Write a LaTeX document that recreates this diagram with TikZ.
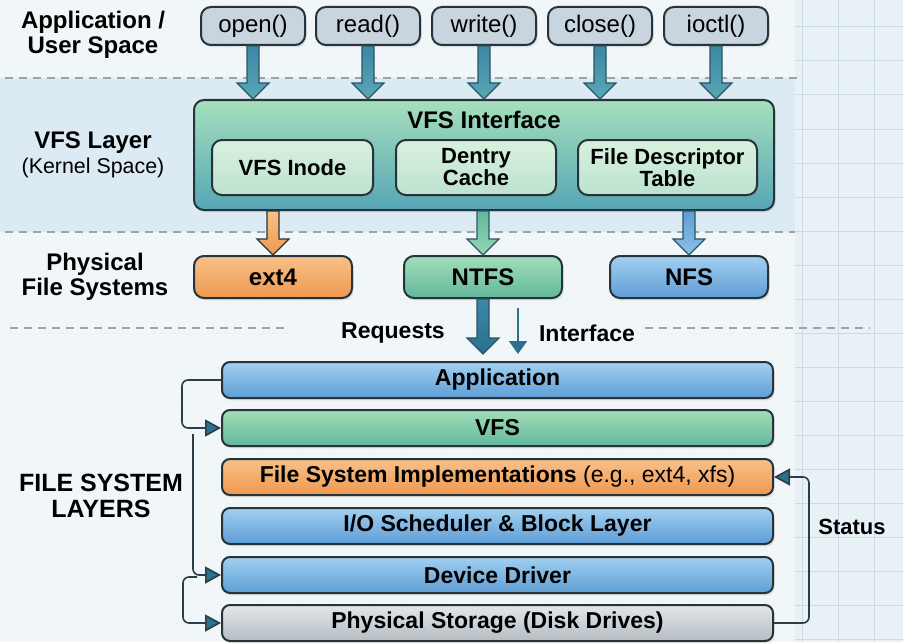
\documentclass[tikz,border=0pt]{standalone}
\usepackage{fontspec}
\setmainfont{Liberation Sans}
\usetikzlibrary{calc,shadows,arrows.meta}

\definecolor{pagebg}{HTML}{E8F1F6}
\definecolor{mainbg}{HTML}{F3F7F9}
\definecolor{bandbg}{HTML}{DCEBF3}
\definecolor{gridc}{HTML}{CCDBE3}
\definecolor{dashc}{HTML}{98A5AC}
\definecolor{edgec}{HTML}{26333A}
\definecolor{callfill}{HTML}{C9D5DE}
\definecolor{vfstop}{HTML}{A6E0BC}
\definecolor{vfsbot}{HTML}{55A6B6}
\definecolor{subtop}{HTML}{D8F1DE}
\definecolor{subbot}{HTML}{BDE2CF}
\definecolor{orgtop}{HTML}{F8C189}
\definecolor{orgbot}{HTML}{EE9850}
\definecolor{grntop}{HTML}{A2DEB8}
\definecolor{grnbot}{HTML}{62B79C}
\definecolor{blutop}{HTML}{A2D0F1}
\definecolor{blubot}{HTML}{5E9DD5}
\definecolor{grytop}{HTML}{E3E7EA}
\definecolor{grybot}{HTML}{B4BCC2}
\definecolor{tealtop}{HTML}{3C88A6}
\definecolor{tealbot}{HTML}{5AA7B4}
\definecolor{arredge}{HTML}{2A5565}
\definecolor{flowc}{HTML}{2B3D48}
\definecolor{tipc}{HTML}{2C6F8E}

\tikzset{
  box/.style={draw=edgec, line width=1pt, rounded corners=5pt, align=center,
    inner sep=0pt, font=\bfseries\fontsize{11.5}{12}\selectfont,
    drop shadow={shadow xshift=0.8pt, shadow yshift=-1.2pt, opacity=0.18}},
  callbox/.style={box, fill=callfill, minimum width=52pt, minimum height=19pt,
    font=\fontsize{12}{13}\selectfont},
  vfsbox/.style={box, top color=vfstop, bottom color=vfsbot,
    minimum width=290pt, minimum height=55pt},
  subbox/.style={box, top color=subtop, bottom color=subbot, minimum height=27.5pt,
    font=\bfseries\fontsize{11}{11}\selectfont},
  fsbox/.style={box, minimum width=79pt, minimum height=21pt,
    font=\bfseries\fontsize{12}{13}\selectfont},
  layer/.style={box, rounded corners=4pt, minimum width=275.5pt, minimum height=18pt},
  orangefill/.style={top color=orgtop, bottom color=orgbot},
  greenfill/.style={top color=grntop, bottom color=grnbot},
  bluefill/.style={top color=blutop, bottom color=blubot},
  grayfill/.style={top color=grytop, bottom color=grybot},
  sidelabel/.style={align=center, font=\bfseries\fontsize{12}{12.5}\selectfont},
  plainlabel/.style={font=\bfseries\fontsize{11.5}{12}\selectfont},
  sepline/.style={dashc, line width=0.6pt, dash pattern=on 4pt off 3pt},
  gridline/.style={gridc, line width=0.5pt},
  fatarr/.style={draw=arredge, line width=0.6pt, top color=tealtop, bottom color=tealbot},
  flow/.style={flowc, line width=0.8pt, rounded corners=3pt,
    -{Triangle[length=8pt, width=8.5pt, fill=tipc]}}
}

% block arrow from #2 straight down to #3
\newcommand{\fatarrow}[3]{%
  \draw[fatarr, #1] ($(#2)+(-6,0)$) -- ($(#3)+(-6,-16)$) -- ($(#3)+(-16,-16)$)
    -- (#3) -- ($(#3)+(16,-16)$) -- ($(#3)+(6,-16)$) -- ($(#2)+(6,0)$) -- cycle;}

\begin{document}
\begin{tikzpicture}[x=0.5pt, y=-0.5pt]

	% background
	\fill[pagebg] (0,0) rectangle (903,642);
	\useasboundingbox (0,0) rectangle (903,642);
	\foreach \gx in {10,46,...,900} \draw[gridline] (\gx,0) -- (\gx,642);
	\foreach \gy in {27,61,...,642} \draw[gridline] (0,\gy) -- (903,\gy);
	\fill[mainbg, opacity=0.85] (0,0) rectangle (795,642);
	\fill[bandbg] (0,78) rectangle (795,232);
	\draw[sepline] (5,78) -- (800,78);
	\draw[sepline] (5,232) -- (795,232);
	\draw[sepline] (10,328) -- (290,328);
	\draw[sepline] (645,328) -- (870,328);

	% side labels
	\node[sidelabel] (lbluser) at (93,35) {Application /\\User Space};
	\node[sidelabel, align=center] (lblvfs) at (93,155) {VFS Layer\\{\mdseries\fontsize{10.7}{12.5}\selectfont (Kernel Space)}};
	\node[sidelabel] (lblphys) at (95,277) {Physical\\File Systems};
	\node[sidelabel, font=\bfseries\fontsize{12.5}{13}\selectfont] (lbllayers) at (101,496) {FILE SYSTEM\\LAYERS};

	% system calls
	\node[callbox] (open)  at (253,26) {open()};
	\node[callbox] (read)  at (368,26) {read()};
	\node[callbox] (write) at (484,26) {write()};
	\node[callbox] (close) at (600,26) {close()};
	\node[callbox] (ioctl) at (716,26) {ioctl()};

	% VFS interface
	\node[vfsbox] (vfsif) at (484,155) {};
	\node[font=\bfseries\fontsize{12}{13}\selectfont] (vfstitle) at (484,120) {VFS Interface};
	\node[subbox, minimum width=80.5pt] (inode)  at (292.5,167.5) {VFS Inode};
	\node[subbox, minimum width=80pt]   (dentry) at (476,167.5) {Dentry\\Cache};
	\node[subbox, minimum width=89.5pt] (fdt)    at (667.5,167.5) {File Descriptor\\Table};

	% physical file systems
	\node[fsbox, orangefill] (ext4) at (273,277) {ext4};
	\node[fsbox, greenfill]  (ntfs) at (483,277) {NTFS};
	\node[fsbox, bluefill]   (nfs)  at (689,277) {NFS};

	% layer stack
	\node[layer, bluefill]   (app)   at (497.5,380) {Application};
	\node[layer, greenfill]  (vfs)   at (497.5,428) {VFS};
	\node[layer, orangefill] (fsi)   at (497.5,477) {File System Implementations {\mdseries (e.g., ext4, xfs)}};
	\node[layer, bluefill]   (iosch) at (497.5,526) {I/O Scheduler \& Block Layer};
	\node[layer, bluefill]   (dd)    at (497.5,575) {Device Driver};
	\node[layer, grayfill]   (ps)    at (497.5,623) {Physical Storage (Disk Drives)};

	% arrows into VFS
	\fatarrow{}{open.south}{open.south |- vfsif.north}
	\fatarrow{}{read.south}{read.south |- vfsif.north}
	\fatarrow{}{write.south}{write.south |- vfsif.north}
	\fatarrow{}{close.south}{close.south |- vfsif.north}
	\fatarrow{}{ioctl.south}{ioctl.south |- vfsif.north}

	% arrows to file systems
	\fatarrow{top color=orgtop, bottom color=orgbot, draw=edgec}{ext4.north |- vfsif.south}{ext4.north}
	\fatarrow{top color=grnbot, bottom color=grntop!80!grnbot}{ntfs.north |- vfsif.south}{ntfs.north}
	\fatarrow{top color=blubot, bottom color=blutop!70!blubot}{nfs.north |- vfsif.south}{nfs.north}

	% requests / interface
	\coordinate (reqtip) at ($(ntfs.south |- app.north)+(0,-7)$);
	\fatarrow{top color=tealtop, bottom color=tipc}{ntfs.south}{reqtip}
	\coordinate (ifctop) at (518,308);
	\draw[tipc, line width=0.9pt, -{Triangle[length=6.5pt, width=9pt]}] (ifctop) -- (ifctop |- reqtip);
	\node[plainlabel] (reqlbl) at (393,333) {Requests};
	\node[plainlabel] (ifclbl) at (587,333) {Interface};

	% layer connectors
	\draw[flow] (app.west) -- ++(-39,0) |- (vfs.west);
	\coordinate (ddsrc) at (193,434);
	\draw[flow] (ddsrc) |- (dd.west);
	\coordinate (pssrc) at (197,577);
	\draw[flow] (pssrc) -- ++(-14,0) |- (ps.west);
	\draw[flow] (ps.east) -- ++(35,0) |- (fsi.east);
	\node[plainlabel, font=\bfseries\fontsize{11}{12}\selectfont] (status) at (852,527) {Status};

\end{tikzpicture}
\end{document}
